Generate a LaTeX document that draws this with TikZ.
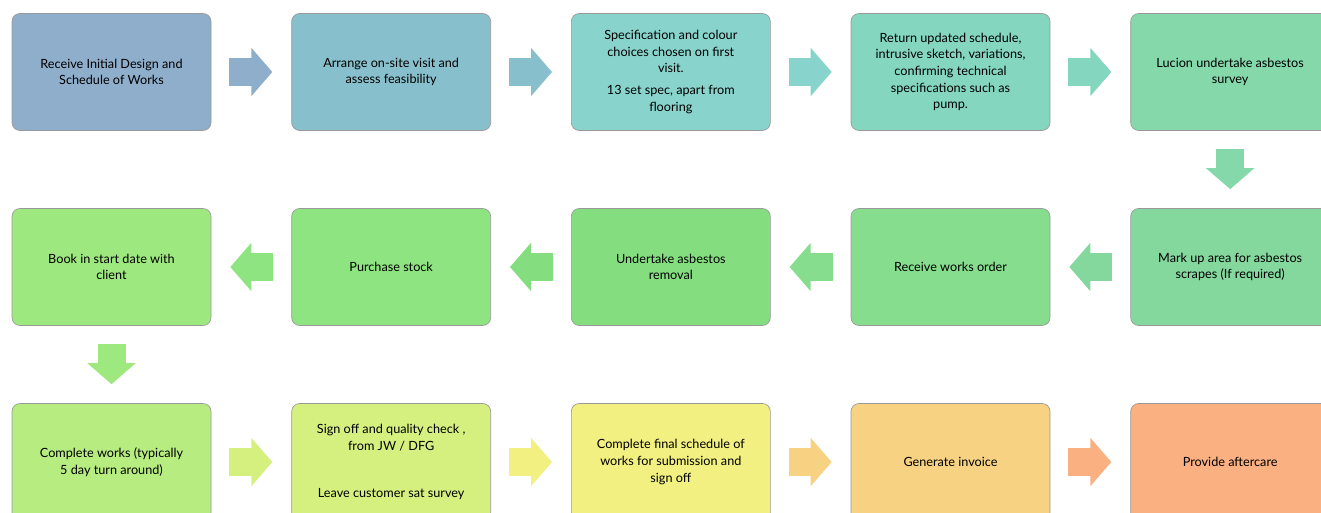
\documentclass[tikz,border=0pt]{standalone}
\usepackage{fontspec}
\setmainfont{Lato}
\usepackage{xcolor}
\usetikzlibrary{positioning, arrows.meta}
\definecolor{StepA}{HTML}{8EAECB}
\definecolor{StepB}{HTML}{88BFCC}
\definecolor{StepC}{HTML}{88D3CB}
\definecolor{StepD}{HTML}{84D6BE}
\definecolor{StepE}{HTML}{84D8AA}
\definecolor{StepF}{HTML}{84D89E}
\definecolor{StepG}{HTML}{86DD8E}
\definecolor{StepH}{HTML}{84DE80}
\definecolor{StepI}{HTML}{8EE480}
\definecolor{StepJ}{HTML}{9EE880}
\definecolor{StepK}{HTML}{B6EC80}
\definecolor{StepL}{HTML}{D6F080}
\definecolor{StepM}{HTML}{F2F080}
\definecolor{StepN}{HTML}{F6D282}
\definecolor{StepO}{HTML}{FAB080}

\begin{document}
\begin{tikzpicture}[
  font=\fontsize{9.5}{12.5}\selectfont,
  node distance=58pt and 60pt,
  box/.style={rectangle, rounded corners=6pt, draw=black!40, line width=0.5pt,
              minimum width=149.25pt, minimum height=87.75pt, align=center,
              inner sep=2pt},
  flow/.style={line width=21pt, shorten <=13.5pt, shorten >=14.25pt,
               -{Triangle[length=15.75pt, width=36pt, line width=1.5pt]}},
]
\useasboundingbox (0,0) rectangle (990.75pt,-384.75pt);

% first row, left to right
\node[box, fill=StepA] (design) at (83.625pt,-54pt) {Receive Initial Design and\\Schedule of Works};
\node[box, fill=StepB, right=of design] (visit) {Arrange on-site visit and\\assess feasibility};
\node[box, fill=StepC, right=of visit] (spec) {Specification and colour\\choices chosen on first\\visit.\\[4pt]13 set spec, apart from\\flooring};
\node[box, fill=StepD, right=of spec] (schedule) {Return updated schedule,\\intrusive sketch, variations,\\confirming technical\\specifications such as\\pump.};
\node[box, fill=StepE, right=of schedule] (survey) {Lucion undertake asbestos\\survey};

% second row, right to left
\node[box, fill=StepF, below=of survey] (markup) {Mark up area for asbestos\\scrapes (If required)};
\node[box, fill=StepG, left=of markup] (order) {Receive works order};
\node[box, fill=StepH, left=of order] (removal) {Undertake asbestos\\removal};
\node[box, fill=StepI, left=of removal] (stock) {Purchase stock};
\node[box, fill=StepJ, left=of stock] (startdate) {Book in start date with\\client};

% third row, left to right
\node[box, fill=StepK, below=of startdate] (works) {Complete works (typically\\5 day turn around)};
\node[box, fill=StepL, right=of works] (signoff) {Sign off and quality check ,\\from JW / DFG\\[23pt]Leave customer sat survey};
\node[box, fill=StepM, right=of signoff] (final) {Complete final schedule of\\works for submission and\\sign off};
\node[box, fill=StepN, right=of final] (invoice) {Generate invoice};
\node[box, fill=StepO, right=of invoice] (aftercare) {Provide aftercare};

\draw[flow, StepA] (design) -- (visit);
\draw[flow, StepB] (visit) -- (spec);
\draw[flow, StepC] (spec) -- (schedule);
\draw[flow, StepD] (schedule) -- (survey);
\draw[flow, StepE] (survey) -- (markup);
\draw[flow, StepF] (markup) -- (order);
\draw[flow, StepG] (order) -- (removal);
\draw[flow, StepH] (removal) -- (stock);
\draw[flow, StepI] (stock) -- (startdate);
\draw[flow, StepJ] (startdate) -- (works);
\draw[flow, StepL] (works) -- (signoff);
\draw[flow, StepM] (signoff) -- (final);
\draw[flow, StepN] (final) -- (invoice);
\draw[flow, StepO] (invoice) -- (aftercare);

\end{tikzpicture}
\end{document}
